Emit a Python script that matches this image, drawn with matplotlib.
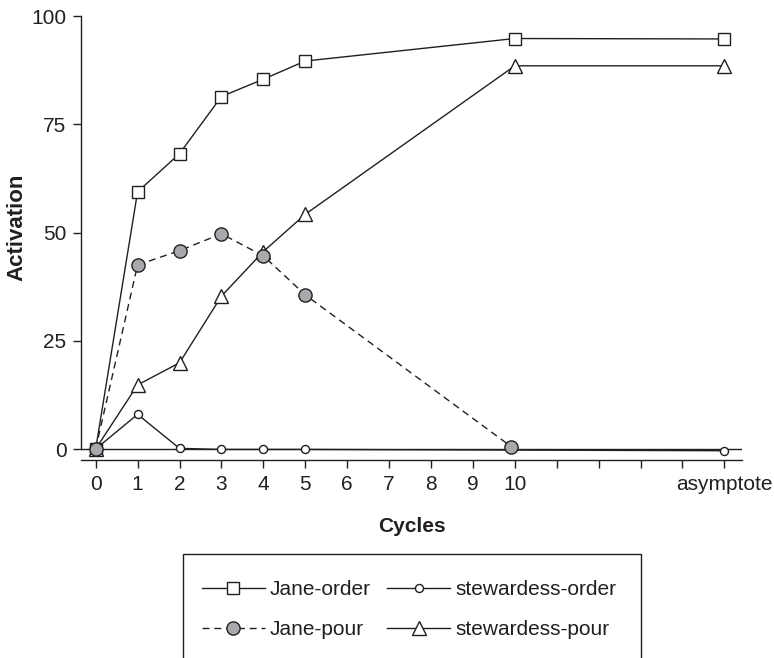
import matplotlib
matplotlib.use("Agg")
import matplotlib.pyplot as plt
from matplotlib.patches import Rectangle

plt.rcParams['font.family'] = ['Liberation Sans', 'DejaVu Sans']

# ---- data ----
tick_positions = list(range(0, 16))
tick_labels = [str(i) for i in range(0, 11)] + ["", "", "", "", "asymptote"]

jane_order_x = [0, 1, 2, 3, 4, 5, 10, 15]
jane_order_y = [0, 59.4, 68.2, 81.4, 85.4, 89.6, 94.8, 94.7]

stew_order_x = [0, 1, 2, 3, 4, 5, 15]
stew_order_y = [0, 8.0, 0.15, -0.1, -0.1, -0.1, -0.4]

stew_pour_x = [0, 1, 2, 3, 4, 5, 10, 15]
stew_pour_y = [0, 14.8, 19.9, 35.3, 45.6, 54.2, 88.5, 88.5]

jane_pour_x = [0, 1, 2, 3, 4, 5, 9.92]
jane_pour_y = [0, 42.5, 45.8, 49.7, 44.6, 35.6, 0.5]

y_ticks = [0, 25, 50, 75, 100]

# ---- style ----
ink = '#231f20'
gray = '#a7a9ac'
lw = 1.0

W, H = 774, 658
fig = plt.figure(figsize=(W / 100, H / 100), dpi=100)
ax = fig.add_axes([81 / W, 1 - 460 / H, (742 - 81) / W, (460 - 16) / H])

ax.axhline(0, color=ink, lw=lw, zorder=1)

l1, = ax.plot(jane_order_x, jane_order_y, color=ink, lw=lw, marker='s', ms=8.6,
              mfc='white', mec=ink, mew=1.0, label='Jane-order', zorder=3, clip_on=False)
l3, = ax.plot(stew_order_x, stew_order_y, color=ink, lw=lw, marker='o', ms=5.8,
              mfc='white', mec=ink, mew=1.0, label='stewardess-order', zorder=3, clip_on=False)
l4, = ax.plot(stew_pour_x, stew_pour_y, color=ink, lw=lw, marker='^', ms=10,
              mfc='white', mec=ink, mew=1.0, label='stewardess-pour', zorder=4, clip_on=False)
l2, = ax.plot(jane_pour_x, jane_pour_y, color=ink, lw=lw, marker='o', ms=9.5,
              mfc=gray, mec=ink, mew=1.0, label='Jane-pour', zorder=5, clip_on=False,
              dashes=(5, 3.5))

ax.set_xlim(-0.35, 15.42)
ax.set_ylim(-2.54, 100)
ax.spines['top'].set_visible(False)
ax.spines['right'].set_visible(False)
ax.spines['left'].set_bounds(0, 100)
for s in ('left', 'bottom'):
    ax.spines[s].set_color(ink)
    ax.spines[s].set_linewidth(1.0)

ax.set_xticks(tick_positions)
ax.set_xticklabels(tick_labels)
ax.set_yticks(y_ticks)
ax.tick_params(axis='both', colors=ink, labelsize=15, width=1.0, length=5.5, pad=5)

ax.set_xlabel('Cycles', fontsize=15, fontweight='bold', color=ink, labelpad=17)
ax.set_ylabel('Activation', fontsize=16, fontweight='bold', color=ink)
ax.yaxis.set_label_coords(-0.081, 0.524)

leg = fig.legend(handles=[l1, l2, l3, l4],
                 labels=['Jane-order', 'Jane-pour', 'stewardess-order', 'stewardess-pour'],
                 ncol=2, loc='upper left', bbox_to_anchor=(202 / W, 1 - 580 / H),
                 frameon=False, fontsize=15, handlelength=3.0, handletextpad=0.25,
                 columnspacing=0.8, labelspacing=1.0, borderpad=0, borderaxespad=0)
for t in leg.get_texts():
    t.set_color(ink)

fig.patches.append(Rectangle((183 / W, -0.05), (641 - 183) / W, (1 - 554 / H) + 0.05,
                             transform=fig.transFigure, fill=False, edgecolor=ink,
                             linewidth=1.0))

fig.savefig('out.png', dpi=100)
